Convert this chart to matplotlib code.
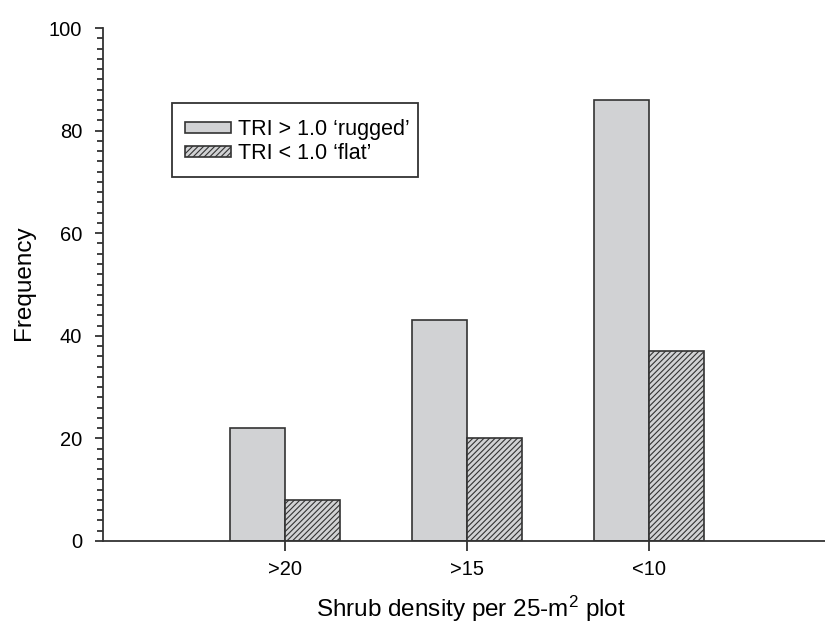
import matplotlib
matplotlib.use("Agg")
import matplotlib.pyplot as plt
from matplotlib.ticker import MultipleLocator
from matplotlib.patches import Rectangle
import numpy as np

plt.rcParams['font.family'] = ['Liberation Sans', 'DejaVu Sans']
plt.rcParams['mathtext.fontset'] = 'custom'
plt.rcParams['mathtext.rm'] = 'Liberation Sans'
plt.rcParams['mathtext.it'] = 'Liberation Sans:italic'
plt.rcParams['hatch.linewidth'] = 0.8

categories = [">20", ">15", "<10"]
rugged = [22, 43, 86]
flat = [8, 20, 37]
labels = ["TRI > 1.0 \u2018rugged\u2019", "TRI < 1.0 \u2018flat\u2019"]

W, H = 825, 624
fig = plt.figure(figsize=(W / 100, H / 100), dpi=100)
ax = fig.add_axes([103 / W, 1 - 541 / H, 728 / W, 513 / H])

x = np.arange(1, len(categories) + 1)
w = 0.3
ax.bar(x - w / 2, rugged, width=w, color='#d1d2d4', edgecolor='#333333', linewidth=1.2, label=labels[0])
ax.bar(x + w / 2, flat, width=w, color='#d1d2d4', edgecolor='#333333', linewidth=1.2, hatch='//////', label=labels[1])

ax.set_xlim(0, 4)
ax.set_ylim(0, 100)
ax.set_xticks(x)
ax.set_xticklabels(categories)
ax.yaxis.set_major_locator(MultipleLocator(20))
ax.yaxis.set_minor_locator(MultipleLocator(2))
ax.spines['top'].set_visible(False)
ax.spines['right'].set_visible(False)
for s in ['left', 'bottom']:
    ax.spines[s].set_linewidth(1.3)
    ax.spines[s].set_color('#333333')
ax.tick_params(axis='both', which='major', direction='out', length=6, width=1.3, labelsize=14.5, color='#333333', pad=9)
ax.tick_params(axis='x', which='major', length=7, pad=7)
ax.tick_params(axis='y', which='minor', direction='out', length=4, width=1.3, color='#333333')

fig.text(24 / W, 1 - 283 / H, 'Frequency', fontsize=17.5, rotation=90, ha='center', va='center')
fig.text(471 / W, 1 - 609 / H, 'Shrub density per 25-m$^2$ plot', fontsize=17.5, ha='center', va='center')

# legend frame (pixel box 172..418 x 103..177)
frame = Rectangle((172 / W, 1 - 177 / H), 246 / W, 74 / H, transform=fig.transFigure,
                  facecolor='white', edgecolor='#333333', linewidth=1.3, zorder=4, clip_on=False)
ax.add_patch(frame)
leg = ax.legend(loc='upper left', bbox_to_anchor=(185 / W, 1 - 119 / H), bbox_transform=fig.transFigure,
                borderaxespad=0, borderpad=0, fontsize=15.5, frameon=False,
                handlelength=2.15, handleheight=0.42, handletextpad=0.3, labelspacing=0.15)
leg.set_zorder(6)

fig.savefig('out.png', dpi=100, facecolor='white')
